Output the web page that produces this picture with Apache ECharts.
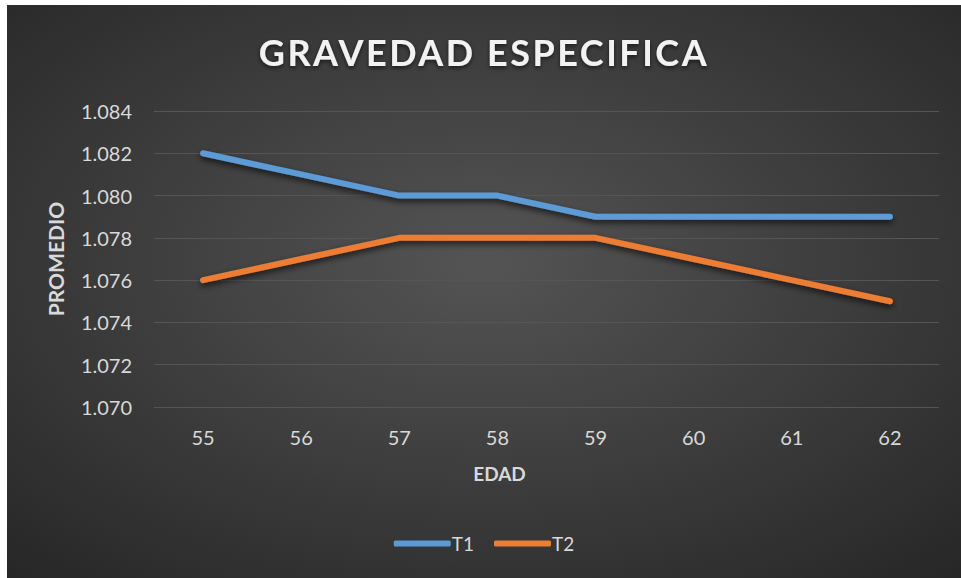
<!DOCTYPE html>
<html><head><meta charset="utf-8">
<script src="https://cdn.jsdelivr.net/npm/echarts@6/dist/echarts.min.js"></script>
<style>
html,body{margin:0;padding:0;background:#fff;width:961px;height:578px;overflow:hidden}
#c{position:absolute;left:7px;top:5px;width:954px;height:573px}
</style></head>
<body><div id="c"></div>
<script>
var categories = ['55','56','57','58','59','60','61','62'];
var t1 = [1.082, 1.081, 1.080, 1.080, 1.079, 1.079, 1.079, 1.079];
var t2 = [1.076, 1.077, 1.078, 1.078, 1.078, 1.077, 1.076, 1.075];
var seriesNames = ['T1', 'T2'];
var titleText = 'GRAVEDAD ESPECIFICA';
var xName = 'EDAD', yName = 'PROMEDIO';

var chart = echarts.init(document.getElementById('c'), null, {renderer: 'svg'});
var lbl = '#d9d9d9';
var ff = 'Lato';
chart.setOption({
  backgroundColor: {
    type: 'radial', x: 0.5, y: 0.45, r: 0.75,
    colorStops: [{offset: 0, color: '#545454'}, {offset: 1, color: '#262626'}]
  },
  title: {
    text: titleText, left: 'center', top: 24,
    textStyle: {color: '#f2f2f2', fontFamily: ff, fontWeight: 'bold', fontSize: 36,
      textShadowColor: 'rgba(0,0,0,0.6)', textShadowBlur: 4, textShadowOffsetY: 2}
  },
  legend: {
    data: seriesNames, bottom: 20, left: 'center', itemWidth: 57, itemHeight: 6, itemGap: 20,
    icon: 'roundRect',
    textStyle: {color: lbl, fontSize: 19, fontFamily: ff, padding: [0,0,0,-4]}
  },
  grid: {left: 147, right: 22, top: 106, bottom: 171},
  xAxis: {
    type: 'category', data: categories, boundaryGap: true,
    name: xName, nameLocation: 'middle', nameGap: 57,
    nameTextStyle: {color: lbl, fontSize: 19, fontWeight: 'bold', fontFamily: ff, padding: [0, 94, 0, 0]},
    axisLine: {show: false}, axisTick: {show: false},
    axisLabel: {color: lbl, fontSize: 20, fontFamily: ff, margin: 20}
  },
  yAxis: {
    type: 'value', min: 1.070, max: 1.084, interval: 0.002,
    name: yName, nameLocation: 'middle', nameGap: 88, nameRotate: 90,
    nameTextStyle: {color: lbl, fontSize: 21, fontWeight: 'bold', fontFamily: ff},
    axisLine: {show: false}, axisTick: {show: false},
    axisLabel: {color: lbl, fontSize: 20, fontFamily: ff, margin: 22,
      formatter: function (v) { return v.toFixed(3); }},
    splitLine: {lineStyle: {color: '#555555', width: 1}}
  },
  series: [
    {name: seriesNames[0], type: 'line', data: t1, symbol: 'none', color: '#5B9BD5',
     lineStyle: {width: 6, cap: 'round', shadowColor: 'rgba(0,0,0,0.7)', shadowBlur: 6, shadowOffsetY: 3}},
    {name: seriesNames[1], type: 'line', data: t2, symbol: 'none', color: '#ED7D31',
     lineStyle: {width: 6, cap: 'round', shadowColor: 'rgba(0,0,0,0.7)', shadowBlur: 6, shadowOffsetY: 3}}
  ]
});
// widen title letter spacing as in the reference
var texts = document.querySelectorAll('#c svg text');
texts.forEach(function (t) {
  if (t.textContent === titleText) { t.style.letterSpacing = '2.5px'; }
});
</script></body></html>
